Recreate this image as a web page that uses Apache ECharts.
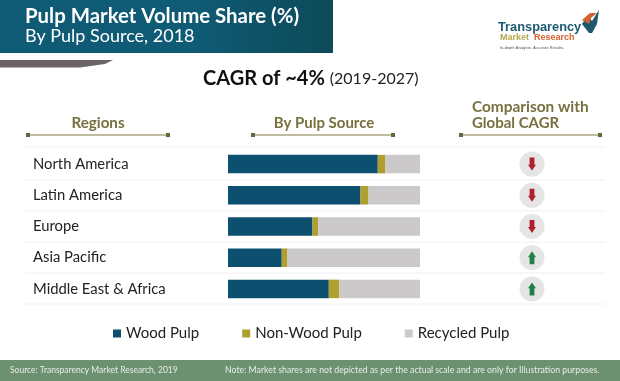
<!DOCTYPE html>
<html>
<head>
<meta charset="utf-8">
<style>
  html, body { margin: 0; padding: 0; background: #fff; }
  #chart { width: 620px; height: 381px; }
</style>
</head>
<body>
<div id="chart"></div>
<script src="https://cdn.jsdelivr.net/npm/echarts@6/dist/echarts.min.js"></script>
<script>
  // values, share in %
  var regions = ['North America', 'Latin America', 'Europe', 'Asia Pacific', 'Middle East & Africa'];
  var woodPulp = [78, 69, 44, 28, 52.5];
  var nonWoodPulp = [4, 4.2, 3, 3, 5.5];
  var recycledPulp = [18, 26.8, 53, 69, 42];
  var cagrTrend = ['down', 'down', 'down', 'up', 'up'];
  var seriesNames = ['Wood Pulp', 'Non-Wood Pulp', 'Recycled Pulp'];

  var font = 'Lato, "Open Sans", sans-serif';
  var logoFont = '"Liberation Sans", sans-serif';
  var headColor = '#77703f';
  var upArrow = 'path://M5 0 L10 5.5 L8 5.5 L8 12 L2 12 L2 5.5 L0 5.5 Z';
  var downArrow = 'path://M2 0 L8 0 L8 6.5 L10 6.5 L5 12 L0 6.5 L2 6.5 Z';

  function label(x, y, text, size, color, weight, align, family) {
    return {
      left: x, top: y, padding: 0,
      text: text,
      textAlign: align || 'left',
      textVerticalAlign: 'middle',
      textStyle: { fontFamily: family || font, fontSize: size, color: color, fontWeight: weight || 'normal' }
    };
  }

  function headRule(x1, x2) {
    return [
      { type: 'line', shape: { x1: x1, y1: 135, x2: x2, y2: 135 }, style: { stroke: '#aaa67f', lineWidth: 1.5 } },
      { type: 'rect', shape: { x: x1 - 2, y: 133, width: 4, height: 4 }, style: { fill: '#5f6a3c' } },
      { type: 'rect', shape: { x: x2 - 2, y: 133, width: 4, height: 4 }, style: { fill: '#5f6a3c' } }
    ];
  }

  var rowLines = [147, 180, 211, 242, 273, 304].map(function (y) {
    return { type: 'line', shape: { x1: 25, y1: y, x2: 605, y2: y }, style: { stroke: '#f1f1f1', lineWidth: 1 } };
  });

  var chart = echarts.init(document.getElementById('chart'));

  chart.setOption({
    animation: false,
    backgroundColor: '#fff',
    title: [
      label(25, 16, 'Pulp Market Volume Share (%)', 20.4, '#fff', 'bold'),
      label(25, 36, 'By Pulp Source, 2018', 18, '#fff'),
      {
        left: 203, top: 79, padding: 0,
        textVerticalAlign: 'middle',
        text: '{b|CAGR of ~4%} {r|(2019-2027)}',
        textStyle: {
          fontWeight: 'normal',
          rich: {
            b: { fontFamily: font, fontSize: 20, fontWeight: 'bold', color: '#111' },
            r: { fontFamily: font, fontSize: 16, fontWeight: 'normal', color: '#222' }
          }
        }
      },
      label(98, 123, 'Regions', 15.2, headColor, 'bold', 'center'),
      label(324, 123, 'By Pulp Source', 15, headColor, 'bold', 'center'),
      label(472, 107, 'Comparison with', 15.4, headColor, 'bold'),
      label(472, 123, 'Global CAGR', 15, headColor, 'bold'),
      label(498, 27, 'Transparency', 12.8, '#1d5a72', 'bold', 'left', logoFont),
      {
        left: 500, top: 38, padding: 0,
        textVerticalAlign: 'middle',
        text: '{m|Market} {o|Research}',
        textStyle: {
          fontWeight: 'normal',
          rich: {
            m: { fontFamily: logoFont, fontSize: 9, fontWeight: 'bold', color: '#b5a74e' },
            o: { fontFamily: logoFont, fontSize: 9, fontWeight: 'bold', color: '#d2622f' }
          }
        }
      },
      label(500, 48, 'In-depth Analysis. Accurate Results.', 4, '#555', 'normal', 'left', logoFont),
      label(10, 370, 'Source: Transparency Market Research, 2019', 8.5, '#e6eee6'),
      label(225, 370, 'Note: Market shares are not depicted as per the actual scale and are only for Illustration purposes.', 8.75, '#e6eee6')
    ],
    graphic: [
      {
        type: 'rect',
        shape: { x: 0, y: 0, width: 333, height: 53 },
        style: {
          fill: new echarts.graphic.LinearGradient(0, 0, 1, 0, [
            { offset: 0, color: '#0f5a74' },
            { offset: 0.6, color: '#0f5a74' },
            { offset: 1, color: '#0c4a58' }
          ])
        }
      },
      {
        type: 'polygon',
        shape: { points: [[0, 60], [113, 60], [105, 64], [80, 67.5], [0, 67.5]] },
        style: { fill: '#6b6566' }
      },
      {
        type: 'polygon',
        shape: { points: [[582, 24], [588, 15], [592, 21], [599, 10], [597, 24], [592, 33], [589, 33]] },
        style: { fill: '#1d5a72' }
      },
      {
        type: 'polygon',
        shape: { points: [[582, 20], [590, 13], [597, 13], [591, 18], [589, 24]] },
        style: { fill: '#d2622f' }
      },
      { type: 'rect', shape: { x: 0, y: 360, width: 620, height: 21 }, style: { fill: '#6c9170' } }
    ].concat(rowLines, headRule(28, 168), headRule(253, 393), headRule(461, 600)),
    legend: {
      left: 113, top: 326,
      padding: 0,
      data: seriesNames,
      icon: 'rect',
      itemWidth: 8, itemHeight: 8, itemGap: 43,
      textStyle: { fontFamily: font, fontSize: 15, color: '#222', padding: [0, 0, 0, 0] }
    },
    grid: [
      { left: 228, top: 148.5, width: 192, height: 156 },
      { left: 500, top: 148.5, width: 64, height: 156 }
    ],
    xAxis: [
      { gridIndex: 0, type: 'value', min: 0, max: 100, show: false },
      { gridIndex: 1, type: 'value', min: 0, max: 2, show: false }
    ],
    yAxis: [
      {
        gridIndex: 0,
        type: 'category',
        inverse: true,
        data: regions,
        axisLine: { show: false },
        axisTick: { show: false },
        axisLabel: {
          margin: 195, align: 'left',
          fontFamily: font, fontSize: 14.8, color: '#222'
        }
      },
      { gridIndex: 1, type: 'category', inverse: true, data: regions, show: false }
    ],
    series: [
      { name: seriesNames[0], type: 'bar', stack: 'share', barWidth: 18.5, data: woodPulp, itemStyle: { color: '#0d4f6e' } },
      { name: seriesNames[1], type: 'bar', stack: 'share', data: nonWoodPulp, itemStyle: { color: '#ae9f2f' } },
      { name: seriesNames[2], type: 'bar', stack: 'share', data: recycledPulp, itemStyle: { color: '#cbc9c9' } },
      {
        type: 'scatter', xAxisIndex: 1, yAxisIndex: 1, silent: true,
        symbol: 'circle', symbolSize: 25,
        itemStyle: { color: '#e6e5e5', opacity: 1 },
        data: cagrTrend.map(function (t, i) { return [1, i]; })
      },
      {
        type: 'scatter', xAxisIndex: 1, yAxisIndex: 1, silent: true, z: 3,
        symbolSize: [8, 13],
        data: cagrTrend.map(function (t, i) {
          return {
            value: [1, i],
            symbol: t === 'up' ? upArrow : downArrow,
            itemStyle: { color: t === 'up' ? '#1e8048' : '#b01f2e', opacity: 1 }
          };
        })
      }
    ]
  });
</script>
</body>
</html>
